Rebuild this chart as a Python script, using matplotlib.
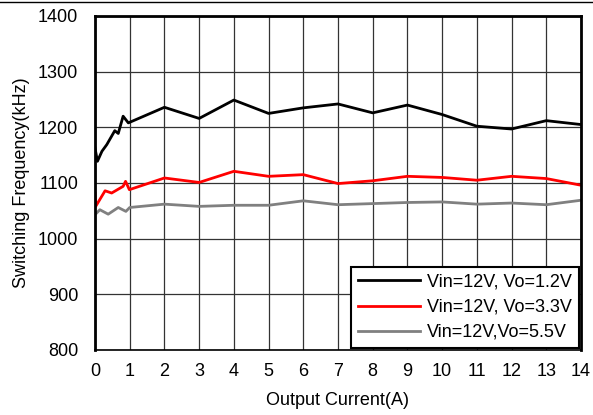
import matplotlib
matplotlib.use("Agg")
import matplotlib.pyplot as plt
from matplotlib.lines import Line2D

plt.rcParams['font.family'] = ['Liberation Sans', 'DejaVu Sans']

x_12 = [0, 0.07, 0.2, 0.34, 0.57, 0.67, 0.81, 0.96, 2, 3, 4, 5, 6, 7, 8, 9, 10, 11, 12, 13, 14]
y_12 = [1163, 1139, 1157, 1169, 1194, 1189, 1220, 1208, 1236, 1216, 1249, 1225, 1235, 1242, 1226, 1240, 1223, 1202, 1197, 1212, 1205]

x_33 = [0, 0.02, 0.29, 0.48, 0.81, 0.88, 0.99, 2, 3, 4, 5, 6, 7, 8, 9, 10, 11, 12, 13, 14]
y_33 = [1082, 1058, 1086, 1082, 1094, 1103, 1088, 1109, 1101, 1121, 1112, 1115, 1099, 1104, 1112, 1110, 1105, 1112, 1108, 1096]

x_55 = [0, 0.14, 0.38, 0.67, 0.89, 1.0, 2, 3, 4, 5, 6, 7, 8, 9, 10, 11, 12, 13, 14]
y_55 = [1043, 1052, 1044, 1056, 1049, 1056, 1062, 1058, 1060, 1060, 1068, 1061, 1063, 1065, 1066, 1062, 1064, 1061, 1069]

labels = ["Vin=12V, Vo=1.2V", "Vin=12V, Vo=3.3V", "Vin=12V,Vo=5.5V"]
xticks = list(range(0, 15))
yticks = [800, 900, 1000, 1100, 1200, 1300, 1400]

W, H = 593, 415
fig = plt.figure(figsize=(W/100, H/100), dpi=100)
ax = fig.add_axes([95/W, 1 - 350/H, (581-95)/W, (350-16)/H])

ax.plot(x_12, y_12, color='black', lw=2, label=labels[0])
ax.plot(x_33, y_33, color='#ff0000', lw=2, label=labels[1])
ax.plot(x_55, y_55, color='#808080', lw=2, label=labels[2])

ax.set_xlim(0, 14)
ax.set_ylim(800, 1400)
ax.set_xticks(xticks)
ax.set_yticks(yticks)
ax.tick_params(axis='y', labelsize=13, length=0, pad=12)
ax.tick_params(axis='x', labelsize=13, length=0, pad=9)
ax.grid(True, color='#333333', lw=0.9)
for s in ['bottom']:
    ax.spines[s].set_linewidth(1.2)
for s in ['left', 'right', 'top']:
    ax.spines[s].set_linewidth(2.0)

ax.set_xlabel("Output Current(A)", fontsize=13, labelpad=9)
ax.set_ylabel("Switching Frequency(kHz)", fontsize=13, labelpad=6)

leg = ax.legend(loc='lower right', fontsize=13, frameon=True, fancybox=False,
                edgecolor='black', framealpha=1, handlelength=3.4,
                borderaxespad=0.1, labelspacing=0.45, handletextpad=0.4, borderpad=0.4)
leg.get_frame().set_linewidth(1.5)

fig.add_artist(Line2D([0, 1], [1 - 2/H, 1 - 2/H], transform=fig.transFigure, color='black', lw=1))

fig.savefig("out.png", dpi=100)
